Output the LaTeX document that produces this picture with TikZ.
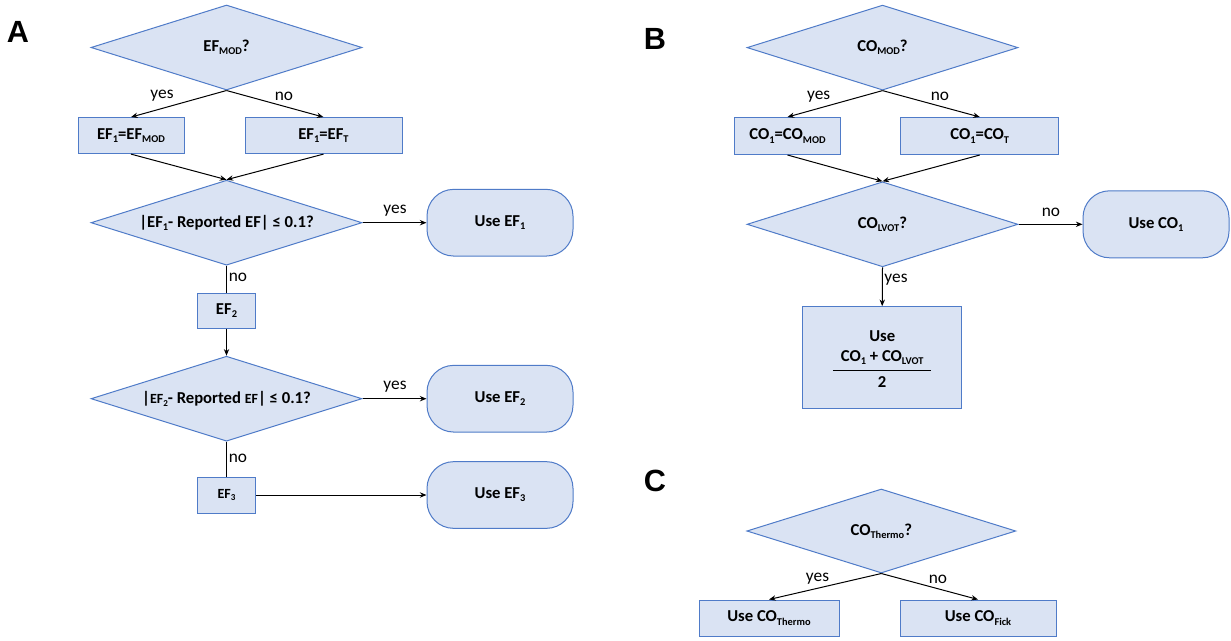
\documentclass[tikz,border=0pt]{standalone}
\usepackage{fontspec}
\setmainfont{Carlito}
\newfontfamily\panelfont{Liberation Sans}
\usetikzlibrary{shapes.geometric,arrows.meta}
\definecolor{boxfill}{HTML}{DAE3F3}
\definecolor{boxline}{HTML}{4F7BC8}
\newcommand\mysub[1]{\raisebox{-0.4ex}{\fontsize{7.8}{8}\selectfont #1}}
\newcommand\smsub[1]{\raisebox{-0.4ex}{\fontsize{6.8}{7}\selectfont #1}}
\begin{document}
\begin{tikzpicture}[x=0.75pt,y=-0.75pt,
 base/.style={draw=boxline,fill=boxfill,line width=0.75pt,font=\fontsize{12.5}{15}\selectfont\bfseries,inner sep=0pt,align=center},
 dec/.style={base,diamond,minimum width=203.25pt,minimum height=63.75pt,shape aspect=3.2},
 rect/.style={base,rectangle},
 term/.style={base,rectangle,rounded corners=20pt,minimum width=109.5pt,minimum height=50pt},
 arr/.style={-{Stealth[length=5pt,width=4pt]},line width=0.75pt,black},
 ln/.style={line width=0.75pt,black},
 lab/.style={font=\fontsize{13}{15}\selectfont,inner sep=0pt},
 panel/.style={font=\panelfont\fontsize{23}{25}\selectfont\bfseries,inner sep=0pt}
]
\useasboundingbox (0,0) rectangle (1231,640);
% ---------- Panel A ----------
\node[panel] (pA) at (18,32) {A};
\node[dec] (dA1) at (226.5,47.5) {EF\mysub{MOD}?};
\node[rect,minimum width=79.5pt,minimum height=27pt] (bA1) at (131,135.6) {EF\mysub{1}=EF\mysub{MOD}};
\node[rect,minimum width=117.75pt,minimum height=27pt] (bA2) at (323.5,135.6) {EF\mysub{1}=EF\mysub{T}};
\node[dec] (dA2) at (226.5,222.7) {|EF\mysub{1}- Reported EF| ≤ 0.1?};
\node[term] (uA1) at (500,222.7) {Use EF\mysub{1}};
\node[rect,minimum width=43.5pt,minimum height=26.25pt] (eA2) at (226.5,310.5) {EF\mysub{2}};
\node[dec] (dA3) at (226.5,398.7) {|{\fontsize{10.5}{12}\selectfont EF\smsub{2}}- Reported {\fontsize{10.5}{12}\selectfont EF}| ≤ 0.1?};
\node[term] (uA2) at (500,398.7) {Use EF\mysub{2}};
\node[rect,minimum width=43.5pt,minimum height=27pt,font=\fontsize{10.5}{12}\selectfont\bfseries] (eA3) at (226.5,495) {EF\smsub{3}};
\node[term] (uA3) at (500,495) {Use EF\mysub{3}};
\draw[arr] (dA1.south) -- (bA1.north);
\draw[arr] (dA1.south) -- (bA2.north);
\draw[arr] (bA1.south) -- (dA2.north);
\draw[arr] (bA2.south) -- (dA2.north);
\draw[arr] (dA2.east) -- (uA1.west);
\draw[ln] (dA2.south) -- (eA2.north);
\draw[arr] (eA2.south) -- (dA3.north);
\draw[arr] (dA3.east) -- (uA2.west);
\draw[ln] (dA3.south) -- (eA3.north);
\draw[arr] (eA3.east) -- (uA3.west);
\node[lab] (lA1) at (162,96) {yes};
\node[lab] (lA2) at (284,96) {no};
\node[lab] (lA3) at (395,211) {yes};
\node[lab] (lA4) at (238,277) {no};
\node[lab] (lA5) at (395,387) {yes};
\node[lab] (lA6) at (238,458) {no};
% ---------- Panel B ----------
\node[panel] (pB) at (655,39) {B};
\node[dec] (dB1) at (882.5,47.6) {CO\mysub{MOD}?};
\node[rect,minimum width=79.5pt,minimum height=27.75pt] (bB1) at (787.5,136) {CO\mysub{1}=CO\mysub{MOD}};
\node[rect,minimum width=118.5pt,minimum height=27.75pt] (bB2) at (979.8,136) {CO\mysub{1}=CO\mysub{T}};
\node[dec] (dB2) at (882.5,224.3) {CO\mysub{LVOT}?};
\node[term,minimum height=50.25pt] (uB1) at (1156,224.3) {Use CO\mysub{1}};
\node[rect,minimum width=119.25pt,minimum height=76.2pt,
  label={[yshift=-3.5pt,inner sep=0pt,align=center,font=\fontsize{12.5}{15}\selectfont\bfseries]center:{Use\\[3.5pt]\begin{tabular}{@{\hspace{6pt}}c@{\hspace{6pt}}}CO\mysub{1} + CO\mysub{LVOT}\\[2pt]\hline\rule{0pt}{13pt}2\end{tabular}}}] (uB2) at (882.2,357.5) {};
\draw[arr] (dB1.south) -- (bB1.north);
\draw[arr] (dB1.south) -- (bB2.north);
\draw[arr] (bB1.south) -- (dB2.north);
\draw[arr] (bB2.south) -- (dB2.north);
\draw[arr] (dB2.east) -- (uB1.west);
\draw[arr] (dB2.south) -- (uB2.north);
\node[lab] (lB1) at (818.7,96.7) {yes};
\node[lab] (lB2) at (940,96.7) {no};
\node[lab] (lB3) at (1051,212) {no};
\node[lab] (lB4) at (896,280) {yes};
% ---------- Panel C ----------
\node[panel] (pC) at (655,481) {C};
\node[dec,minimum width=201.75pt,minimum height=63pt] (dC) at (881.3,531) {CO\mysub{Thermo}?};
\node[rect,minimum width=105pt,minimum height=27pt] (bC1) at (769,618) {Use CO\mysub{Thermo}};
\node[rect,minimum width=117pt,minimum height=27pt] (bC2) at (978,618) {Use CO\mysub{Fick}};
\draw[arr] (dC.south) -- (bC1.north);
\draw[arr] (dC.south) -- (bC2.north);
\node[lab] (lC1) at (817.5,579) {yes};
\node[lab] (lC2) at (938,579) {no};
\end{tikzpicture}
\end{document}
